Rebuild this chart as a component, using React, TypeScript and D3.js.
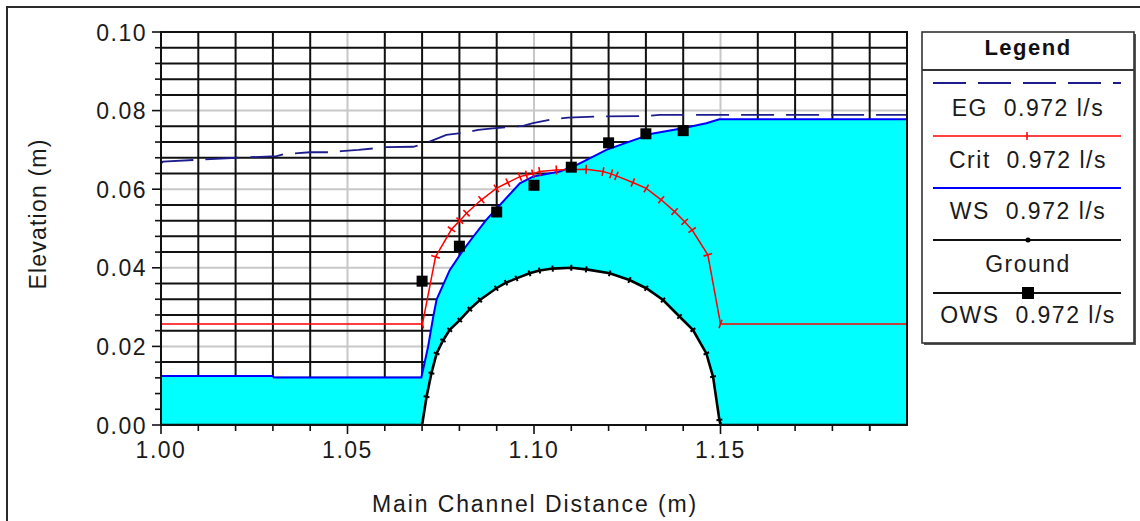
import React from 'react';
import * as d3 from 'd3';

// profile values (distance m, elevation m)
const groundX = [1.0, 1.07, 1.0712, 1.0725, 1.0739, 1.0756, 1.0774, 1.0801, 1.0828, 1.0855, 1.0899, 1.0925, 1.0953, 1.0988, 1.1015, 1.105, 1.11, 1.114, 1.1203, 1.1256, 1.1301, 1.1346, 1.139, 1.1426, 1.1462, 1.148, 1.1497, 1.15, 1.2];
const groundY = [0, 0, 0.0072, 0.0132, 0.0182, 0.0215, 0.0242, 0.0267, 0.0295, 0.0318, 0.0348, 0.0362, 0.0373, 0.0386, 0.0393, 0.0398, 0.04, 0.0396, 0.0386, 0.0369, 0.0348, 0.0318, 0.0276, 0.0242, 0.0182, 0.0123, 0.0013, 0, 0];

const wsX = [1.0, 1.03, 1.0302, 1.0698, 1.0716, 1.073, 1.0739, 1.0774, 1.081, 1.0837, 1.0872, 1.0962, 1.0997, 1.1069, 1.1104, 1.114, 1.1194, 1.1256, 1.1319, 1.1399, 1.1462, 1.1497, 1.2];
const wsY = [0.0125, 0.0125, 0.0121, 0.0121, 0.0199, 0.0276, 0.032, 0.0394, 0.0445, 0.0479, 0.0522, 0.0615, 0.0632, 0.0645, 0.0657, 0.0674, 0.07, 0.0721, 0.0742, 0.0755, 0.0768, 0.0778, 0.0778];

const egX = [1.0, 1.0005, 1.0118, 1.0203, 1.031, 1.0328, 1.0399, 1.0453, 1.0484, 1.0529, 1.0573, 1.0605, 1.0676, 1.0694, 1.073, 1.0765, 1.0814, 1.085, 1.089, 1.0935, 1.0971, 1.0997, 1.1056, 1.1091, 1.1176, 1.1301, 1.1337, 1.2];
const egY = [0.0666, 0.067, 0.0676, 0.068, 0.0684, 0.0689, 0.0694, 0.0694, 0.0697, 0.07, 0.0704, 0.0707, 0.0708, 0.0712, 0.0725, 0.0738, 0.0744, 0.0751, 0.0755, 0.0758, 0.0761, 0.0768, 0.0779, 0.0782, 0.0785, 0.0786, 0.0789, 0.0789];

const critX = [1.0, 1.0701, 1.0736, 1.0779, 1.0801, 1.0819, 1.0859, 1.0899, 1.093, 1.0962, 1.098, 1.0997, 1.1015, 1.106, 1.114, 1.1185, 1.1207, 1.1221, 1.1265, 1.1301, 1.1341, 1.1377, 1.1404, 1.1424, 1.1466, 1.15, 1.2];
const critY = [0.0257, 0.0257, 0.0428, 0.0498, 0.052, 0.0539, 0.0573, 0.0602, 0.0617, 0.0632, 0.0636, 0.0639, 0.0645, 0.0649, 0.0651, 0.0645, 0.0639, 0.0634, 0.0617, 0.0602, 0.0573, 0.0543, 0.0517, 0.0496, 0.0433, 0.0257, 0.0257];

const owsX = [1.07, 1.08, 1.09, 1.1, 1.11, 1.12, 1.13, 1.14];
const owsY = [0.0366, 0.0455, 0.0542, 0.061, 0.0656, 0.0718, 0.0741, 0.0749];

const xTickLabels = ['1.00', '1.05', '1.10', '1.15'];
const yTickLabels = ['0.00', '0.02', '0.04', '0.06', '0.08', '0.10'];
const legendLabels = ['EG  0.972 l/s', 'Crit  0.972 l/s', 'WS  0.972 l/s', 'Ground', 'OWS  0.972 l/s'];

const W = 1140;
const H = 521;
const left = 161;
const right = 907;
const top = 32;
const bottom = 425;
const FONT = '"Liberation Sans", Arial, sans-serif';

type P = [number, number];
const zip = (xs: number[], ys: number[]): P[] => xs.map((v, i) => [v, ys[i]]);

export default function App() {
  const x = d3.scaleLinear().domain([1.0, 1.2]).range([left, right]);
  const y = d3.scaleLinear().domain([0, 0.1]).range([bottom, top]);

  const line = d3.line<P>().x(d => x(d[0])).y(d => y(d[1]));
  const under = d3.area<P>().x(d => x(d[0])).y0(y(0)).y1(d => y(d[1]));
  const above = d3.area<P>().x(d => x(d[0])).y0(top).y1(d => y(d[1]));

  const ground = zip(groundX, groundY);
  const ws = zip(wsX, wsY);
  const eg = zip(egX, egY);
  const crit = zip(critX, critY);
  const ows = zip(owsX, owsY);

  const minorX = d3.range(1.01, 1.195, 0.01).filter(v => Math.abs(v * 20 - Math.round(v * 20)) > 1e-6);
  const minorY = d3.range(0.004, 0.1, 0.004).filter(v => Math.abs(v * 50 - Math.round(v * 50)) > 1e-6);
  const majorX = xTickLabels.map(Number);
  const majorY = yTickLabels.map(Number);

  // short ticks across a line, perpendicular to the local direction
  const crossTicks = (pts: P[], len: number) =>
    pts.slice(1, -1).map((p, k) => {
      const a = pts[k];
      const b = pts[k + 2];
      const dx = x(b[0]) - x(a[0]);
      const dy = y(b[1]) - y(a[1]);
      const n = Math.hypot(dx, dy) || 1;
      const nx = -dy / n;
      const ny = dx / n;
      const cx = x(p[0]);
      const cy = y(p[1]);
      return { x1: cx - nx * len, y1: cy - ny * len, x2: cx + nx * len, y2: cy + ny * len };
    });

  const lx1 = 933;
  const lx2 = 1121;
  const lcx = 1028;
  const rowLine = [83, 136, 188, 240, 293];
  const rowText = [116, 168, 219, 272, 323];

  return (
    <svg width={W} height={H} style={{ position: 'absolute', left: 0, top: 0, fontFamily: FONT }}>
      <rect x={0} y={0} width={W} height={H} fill="#fff" />
      <rect x={7} y={7} width={W + 20} height={H + 20} fill="none" stroke="#2a2a2a" strokeWidth={2} />

      <defs>
        <clipPath id="sky">
          <path d={above(ws) || ''} />
        </clipPath>
        <clipPath id="plot">
          <rect x={left} y={top} width={right - left} height={bottom - top} />
        </clipPath>
      </defs>

      {/* water and ground fills */}
      <path d={under(ws) || ''} fill="#00ffff" />
      <path d={under(ground) || ''} fill="#fff" />

      {/* grid, only visible above the water surface */}
      <g clipPath="url(#sky)">
        {majorX.map(v => (
          <line key={'gx' + v} x1={x(v)} x2={x(v)} y1={top} y2={bottom} stroke="#c8c8c8" strokeWidth={2} />
        ))}
        {majorY.map(v => (
          <line key={'gy' + v} x1={left} x2={right} y1={y(v)} y2={y(v)} stroke="#c8c8c8" strokeWidth={2} />
        ))}
        {minorX.map(v => (
          <line key={'mx' + v} x1={x(v)} x2={x(v)} y1={top} y2={bottom} stroke="#111" strokeWidth={2} />
        ))}
        {minorY.map(v => (
          <line key={'my' + v} x1={left} x2={right} y1={y(v)} y2={y(v)} stroke="#111" strokeWidth={2} />
        ))}
      </g>

      <g clipPath="url(#plot)">
        <path d={line(eg) || ''} fill="none" stroke="#1c1c8c" strokeWidth={1.8} strokeDasharray="33,12" />
        <path d={line(ws) || ''} fill="none" stroke="#0000ff" strokeWidth={2} />
        <path d={line(crit) || ''} fill="none" stroke="#ff0000" strokeWidth={1.5} />
        {crossTicks(crit, 4.5).map((t, i) => (
          <line key={'ct' + i} {...t} stroke="#ff0000" strokeWidth={1.6} />
        ))}
        <path d={line(ground) || ''} fill="none" stroke="#000" strokeWidth={2.6} />
        {crossTicks(ground, 3).map((t, i) => (
          <line key={'gt' + i} {...t} stroke="#000" strokeWidth={2} />
        ))}
        {ows.map((p, i) => (
          <rect key={'o' + i} x={x(p[0]) - 5.5} y={y(p[1]) - 5.5} width={11} height={11} fill="#000" />
        ))}
      </g>

      {/* frame */}
      <rect x={left} y={top} width={right - left} height={bottom - top} fill="none" stroke="#111" strokeWidth={2} />

      {/* x axis */}
      {minorX.concat([1.19]).map(v => (
        <line key={'xt' + v} x1={x(v)} x2={x(v)} y1={bottom} y2={bottom + 6} stroke="#111" strokeWidth={1.6} />
      ))}
      {majorX.map((v, i) => (
        <g key={'xl' + v}>
          <line x1={x(v)} x2={x(v)} y1={bottom} y2={bottom + 9} stroke="#111" strokeWidth={1.6} />
          <text x={x(v)} y={458} textAnchor="middle" fontSize={23} letterSpacing={1.5} fill="#1a1a1a">
            {xTickLabels[i]}
          </text>
        </g>
      ))}
      <text x={535} y={512} textAnchor="middle" fontSize={23} letterSpacing={1.9} fill="#1a1a1a">
        Main Channel Distance (m)
      </text>

      {/* y axis */}
      {minorY.map(v => (
        <line key={'yt' + v} x1={left - 6} x2={left} y1={y(v)} y2={y(v)} stroke="#111" strokeWidth={1.6} />
      ))}
      {majorY.map((v, i) => (
        <g key={'yl' + v}>
          <line x1={left - 9} x2={left} y1={y(v)} y2={y(v)} stroke="#111" strokeWidth={1.6} />
          <text x={147} y={y(v) + 8.5} textAnchor="end" fontSize={23} letterSpacing={1.5} fill="#1a1a1a">
            {yTickLabels[i]}
          </text>
        </g>
      ))}
      <text transform="translate(46,214) rotate(-90)" textAnchor="middle" fontSize={23} letterSpacing={1.2} fill="#1a1a1a">
        Elevation (m)
      </text>

      {/* legend */}
      <rect x={924} y={34} width={212} height={311} fill="#555" />
      <rect x={922} y={32} width={212} height={311} fill="#fff" stroke="#333" strokeWidth={1.6} />
      <text x={lcx} y={55} textAnchor="middle" fontSize={22} fontWeight="bold" letterSpacing={1.5} fill="#111">
        Legend
      </text>
      <line x1={922} x2={1134} y1={70} y2={70} stroke="#333" strokeWidth={2} />

      <line x1={lx1} x2={lx2} y1={rowLine[0]} y2={rowLine[0]} stroke="#1c1c8c" strokeWidth={1.8} strokeDasharray="33,12" />
      <line x1={lx1} x2={lx2} y1={rowLine[1]} y2={rowLine[1]} stroke="#ff0000" strokeWidth={1.5} />
      <line x1={lcx - 1} x2={lcx - 1} y1={rowLine[1] - 4} y2={rowLine[1] + 4} stroke="#ff0000" strokeWidth={1.5} />
      <line x1={lx1} x2={lx2} y1={rowLine[2]} y2={rowLine[2]} stroke="#0000ff" strokeWidth={2} />
      <line x1={lx1} x2={lx2} y1={rowLine[3]} y2={rowLine[3]} stroke="#111" strokeWidth={1.8} />
      <circle cx={lcx} cy={rowLine[3]} r={2.5} fill="#000" />
      <line x1={lx1} x2={lx2} y1={rowLine[4]} y2={rowLine[4]} stroke="#111" strokeWidth={1.8} />
      <rect x={lcx - 6} y={rowLine[4] - 6} width={12} height={12} fill="#000" />

      {legendLabels.map((s, i) => (
        <text key={s} x={lcx} y={rowText[i]} textAnchor="middle" fontSize={23} letterSpacing={1.5} fill="#1a1a1a" style={{ whiteSpace: 'pre' }}>
          {s}
        </text>
      ))}
    </svg>
  );
}
